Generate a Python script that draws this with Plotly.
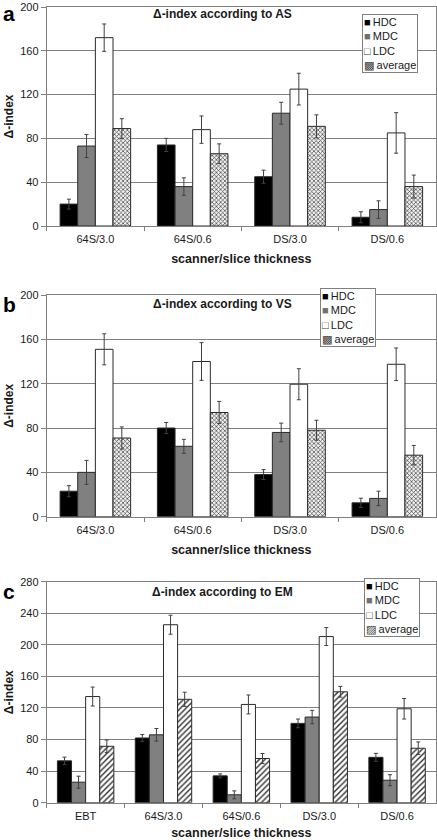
import plotly.graph_objects as go

series = ["HDC", "MDC", "LDC", "average"]

cats_a = ["64S/3.0", "64S/0.6", "DS/3.0", "DS/0.6"]
a_vals = {
    "HDC": [20, 74, 45, 8],
    "MDC": [73, 36, 103, 15],
    "LDC": [172, 88, 125, 85],
    "average": [89, 66, 91, 36],
}
a_err = {
    "HDC": [4.5, 6, 6, 5],
    "MDC": [10.5, 8, 10, 8],
    "LDC": [12.5, 12.5, 14.5, 18.5],
    "average": [9, 9, 10.5, 10.5],
}

cats_b = ["64S/3.0", "64S/0.6", "DS/3.0", "DS/0.6"]
b_vals = {
    "HDC": [23, 80, 38, 12.5],
    "MDC": [40, 63.5, 76, 16.5],
    "LDC": [151, 140, 119.5, 137.5],
    "average": [71, 94, 78, 55.5],
}
b_err = {
    "HDC": [5, 5, 4.5, 4.2],
    "MDC": [10.8, 6.3, 8.4, 6.5],
    "LDC": [14, 17, 14, 14.7],
    "average": [10, 10, 9, 8.8],
}

cats_c = ["EBT", "64S/3.0", "64S/0.6", "DS/3.0", "DS/0.6"]
c_vals = {
    "HDC": [53, 82, 34, 100.5, 57.5],
    "MDC": [26, 86, 10, 108.5, 28.5],
    "LDC": [134.5, 225.5, 124.5, 210.5, 119],
    "average": [71.5, 131, 56, 140.5, 69],
}
c_err = {
    "HDC": [4.7, 4.3, 2.5, 5.5, 5],
    "MDC": [7.6, 8, 5, 8.5, 7],
    "LDC": [12, 12, 12, 11.4, 13],
    "average": [8, 9, 6.3, 6.8, 8],
}

titles = ["\u0394-index according to AS", "\u0394-index according to VS", "\u0394-index according to EM"]
letters = ["a", "b", "c"]
FONT = "Liberation Sans, Arial, DejaVu Sans, sans-serif"
W, H = 437, 840


def py(px):
    return 1 - px / H


def style(name, panel):
    line = dict(color="#2a2a2a", width=1)
    if name == "HDC":
        return dict(color="#000000", line=line)
    if name == "MDC":
        return dict(color="#808080", line=line)
    if name == "LDC":
        return dict(color="#ffffff", line=line)
    if panel < 2:
        pat = dict(shape="x", size=3, solidity=0.4, fgcolor="#404040", bgcolor="#f0f0f0", fillmode="replace")
    else:
        pat = dict(shape="/", size=4, solidity=0.35, fgcolor="#303030", bgcolor="#ffffff", fillmode="replace")
    return dict(color="#ffffff", line=line, pattern=pat)


fig = go.Figure()
panels = [(cats_a, a_vals, a_err), (cats_b, b_vals, b_err), (cats_c, c_vals, c_err)]
for p, (cats, vals, errs) in enumerate(panels):
    sfx = "" if p == 0 else str(p + 1)
    for s in series:
        fig.add_trace(go.Bar(
            x=cats, y=vals[s], name=s,
            marker=style(s, p),
            error_y=dict(type="data", array=errs[s], color="#404040", thickness=1, width=2),
            xaxis="x" + sfx, yaxis="y" + sfx,
            showlegend=False,
        ))

# panel geometry in pixels: (top, bottom, ymax)
geo = [(7.0, 226.0, 200), (295.0, 516.7, 200), (581.7, 802.7, 280)]
x0, x1 = 46.7 / W, 436.0 / W
axis_common = dict(showline=True, linecolor="#808080", linewidth=1, mirror=True, automargin=False)
layout = dict(
    width=W, height=H, margin=dict(l=0, r=0, t=0, b=0, autoexpand=False),
    paper_bgcolor="white", plot_bgcolor="white",
    font=dict(family=FONT, size=11, color="#1a1a1a"),
    barmode="group", bargap=0.275, bargroupgap=0,
    showlegend=False,
)
for p, (top, bot, ymax) in enumerate(geo):
    sfx = "" if p == 0 else str(p + 1)
    layout["xaxis" + sfx] = dict(
        domain=[x0, x1], anchor="y" + sfx, type="category",
        ticks="outside", tickson="boundaries", ticklen=4, tickcolor="#808080",
        tickfont=dict(size=11, color="#1a1a1a"), ticklabelstandoff=3,
        title=dict(text="<b>scanner/slice thickness</b>", font=dict(size=12.5), standoff=10),
        **axis_common,
    )
    layout["yaxis" + sfx] = dict(
        domain=[py(bot), py(top)], anchor="x" + sfx, range=[0, ymax], dtick=40,
        ticks="outside", ticklen=5, tickcolor="#808080",
        showgrid=True, gridcolor="#808080", gridwidth=1, zeroline=False,
        tickfont=dict(size=11, color="#1a1a1a"), ticklabeloverflow="allow",
        title=dict(text="<b>\u0394-index</b>", font=dict(size=12), standoff=3),
        **axis_common,
    )

fig.update_layout(**layout)

title_y = [14, 304, 592]
letter_y = [0, 291, 578]
for p in range(3):
    fig.add_annotation(text="<b>" + titles[p] + "</b>", x=222 / W, y=py(title_y[p]),
                       xref="paper", yref="paper", showarrow=False,
                       font=dict(size=12, color="#1a1a1a"), xanchor="center", yanchor="middle")
    fig.add_annotation(text="<b>" + letters[p] + "</b>", x=9 / W, y=py(letter_y[p]),
                       xref="paper", yref="paper", showarrow=False,
                       font=dict(size=21, color="#000000"), xanchor="center", yanchor="top")

# key boxes (legend) per panel
leg_pos = [(418, 14), (376, 288), (420, 578)]
avg_glyph = ["\u25a9", "\u25a9", "\u25a8"]
for p, (rx, ty) in enumerate(leg_pos):
    txt = ("<span style='color:#000000'>\u25a0</span>\u2009" + series[0] + "<br>"
           + "<span style='color:#707070'>\u25a0</span>\u2009" + series[1] + "<br>"
           + "<span style='color:#404040'>\u25a1</span>\u2009" + series[2] + "<br>"
           + "<span style='color:#404040'>" + avg_glyph[p] + "</span>\u2009" + series[3])
    fig.add_annotation(text=txt, x=rx / W, y=py(ty), xref="paper", yref="paper",
                       showarrow=False, xanchor="right", yanchor="top", align="left",
                       bgcolor="white", bordercolor="#808080", borderwidth=1, borderpad=1,
                       font=dict(size=11, color="#1a1a1a"))

fig.write_html("out.html", config={"displayModeBar": False},
               post_script="document.body.style.margin='0';document.body.style.padding='0';")
